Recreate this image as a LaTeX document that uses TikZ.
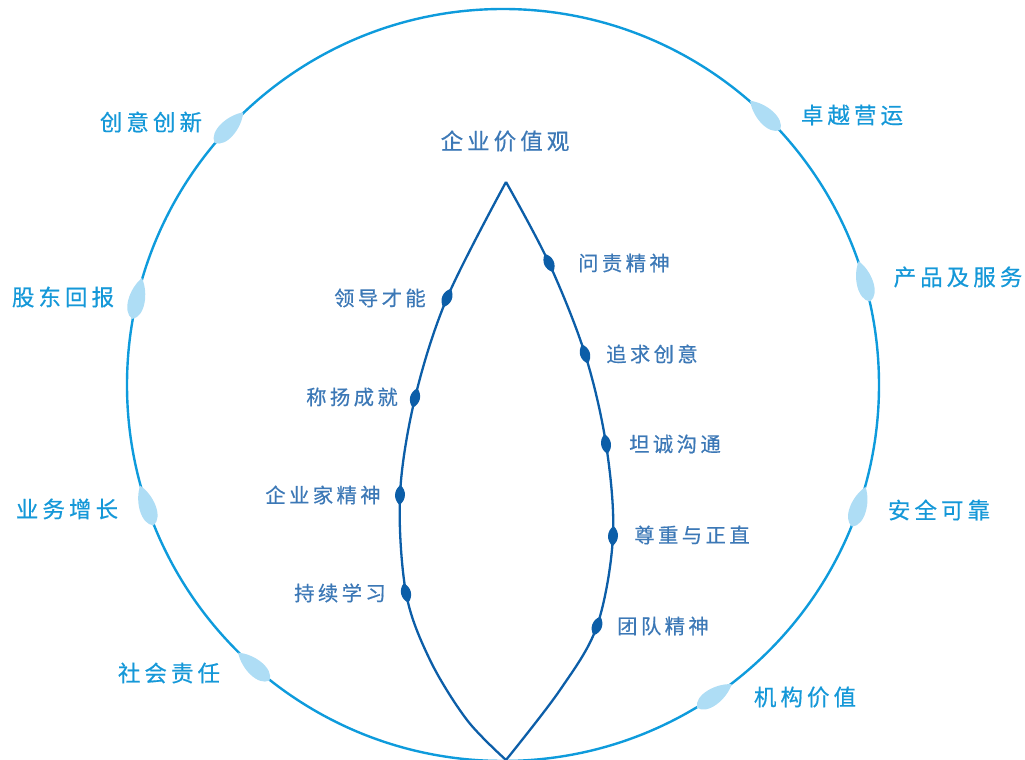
\documentclass[tikz,border=0pt]{standalone}
\usepackage{fontspec}
\newfontfamily\cjkouter[LetterSpace=18,FakeBold=0.5]{Noto Sans CJK SC}
\newfontfamily\cjkinner[LetterSpace=17,FakeBold=0.5]{Noto Sans CJK SC}
\definecolor{outerblue}{HTML}{1598D8}
\definecolor{ringblue}{HTML}{0E9BDC}
\definecolor{leafblue}{HTML}{AEDDF5}
\definecolor{innerblue}{HTML}{3C78B6}
\definecolor{lensblue}{HTML}{0C5EA8}
\begin{document}
\begin{tikzpicture}[x=1pt,y=1pt,
  outerlbl/.style={font=\cjkouter\fontsize{22.5}{26}\selectfont, text=outerblue, inner sep=0pt},
  innerlbl/.style={font=\cjkinner\fontsize{20.3}{24}\selectfont, text=innerblue, inner sep=0pt},
  titlelbl/.style={font=\cjkouter\fontsize{22.5}{26}\selectfont, text=innerblue, inner sep=0pt},
  ringline/.style={draw=ringblue, line width=2.4pt},
  lensline/.style={draw=lensblue, line width=2.3pt, line join=miter},
  leaf/.pic={\fill[leafblue] (-21,0) .. controls (-8,10) and (16,12) .. (21,0) .. controls (16,-12) and (-8,-10) .. cycle;},
  seed/.pic={\fill[lensblue] (-10,0) .. controls (-4.5,6.6) and (4.5,6.6) .. (10,0) .. controls (4.5,-6.6) and (-4.5,-6.6) .. cycle;}
]
\useasboundingbox (0,0) rectangle (1025,760);
\coordinate (c) at (503,375);
% outer ring
\draw[ringline] (c) circle[radius=376];
% leaves on the ring
\pic[rotate=226.8] at ([shift={(136.8:376)}]c) {leaf};
\pic[rotate=256.7] at ([shift={(166.7:376)}]c) {leaf};
\pic[rotate=288.7] at ([shift={(198.7:376)}]c) {leaf};
\pic[rotate=318.5] at ([shift={(228.5:376)}]c) {leaf};
\pic[rotate=-44.2] at ([shift={(45.8:376)}]c) {leaf};
\pic[rotate=-74] at ([shift={(16:376)}]c) {leaf};
\pic[rotate=251.1] at ([shift={(-18.9:376)}]c) {leaf};
\pic[rotate=214.2] at ([shift={(-55.8:376)}]c) {leaf};
% lens
\draw[lensline] plot[smooth, tension=0.55] coordinates {(506,578) (447,462) (415,362) (400,265) (406,167) (430,100) (467,40) (506,0)};
\draw[lensline] plot[smooth, tension=0.55] coordinates {(506,578) (549,497) (585,406) (606,316) (613,224) (597,134) (560,70) (506,0)};
% seeds on the lens
\pic[rotate=67] at (447,462) {seed};
\pic[rotate=76.6] at (415,362) {seed};
\pic[rotate=87.4] at (400,265) {seed};
\pic[rotate=103.7] at (406,167) {seed};
\pic[rotate=114.7] at (549,497) {seed};
\pic[rotate=107.5] at (585,406) {seed};
\pic[rotate=98.7] at (606,316) {seed};
\pic[rotate=87] at (613,224) {seed};
\pic[rotate=70] at (597,134) {seed};
% title
\node[titlelbl] (title) at (505,619) {企业价值观};
% outer labels
\node[outerlbl] (o1) at (151,638) {创意创新};
\node[outerlbl] (o2) at (852,645) {卓越营运};
\node[outerlbl] (o3) at (63,463) {股东回报};
\node[outerlbl] (o4) at (958,483) {产品及服务};
\node[outerlbl] (o5) at (67,251) {业务增长};
\node[outerlbl] (o6) at (939,250) {安全可靠};
\node[outerlbl] (o7) at (169,87) {社会责任};
\node[outerlbl] (o8) at (805,63) {机构价值};
% inner labels
\node[innerlbl] (i1) at (380,462) {领导才能};
\node[innerlbl] (i2) at (352,363) {称扬成就};
\node[innerlbl] (i3) at (323,265) {企业家精神};
\node[innerlbl] (i4) at (340,167) {持续学习};
\node[innerlbl] (i5) at (624,497) {问责精神};
\node[innerlbl] (i6) at (652,406) {追求创意};
\node[innerlbl] (i7) at (675,316) {坦诚沟通};
\node[innerlbl] (i8) at (692,225) {尊重与正直};
\node[innerlbl] (i9) at (663,134) {团队精神};
\end{tikzpicture}
\end{document}
